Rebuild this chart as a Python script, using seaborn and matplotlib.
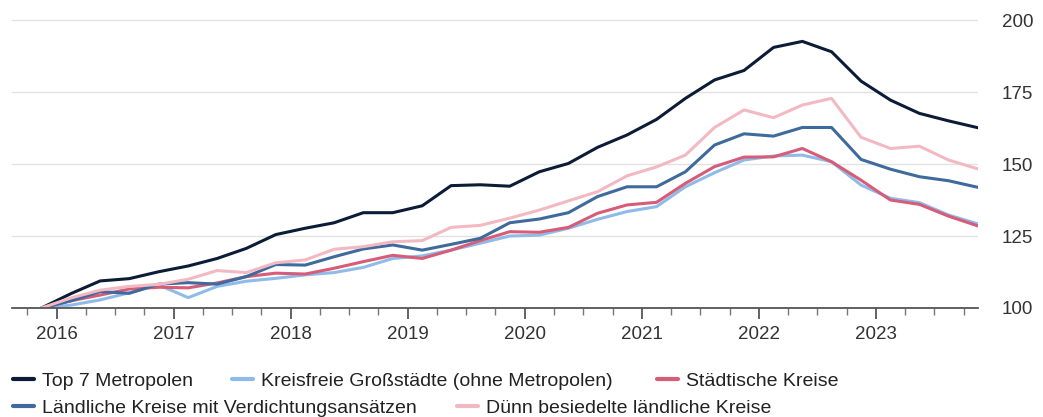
#!/usr/bin/env python3
"""
Preisindex nach Kreistyp (Quartale 2015 Q4 - 2023 Q4, 2015 Q4 = 100)
Output: out.png
"""

import pandas as pd
import matplotlib
matplotlib.use("Agg")
import matplotlib.pyplot as plt
import matplotlib.dates as mdates
import seaborn as sns

# Quartale
quarters = pd.period_range("2015Q4", "2023Q4", freq="Q")

# Indexwerte je Kreistyp
top7 = [100, 105, 109.4, 110.2, 112.6, 114.6, 117.2, 120.7, 125.5, 127.7, 129.6,
        133.1, 133.1, 135.5, 142.5, 142.8, 142.3, 147.3, 150.2, 155.8, 160.1,
        165.5, 172.8, 179.2, 182.5, 190.5, 192.6, 189.0, 178.8, 172.2, 167.6,
        165.0, 162.6]
kreisfreie = [100, 101, 102.8, 105.3, 108.0, 103.6, 107.5, 109.3, 110.3, 111.5,
              112.3, 114.1, 117.2, 118.1, 120.1, 122.5, 125.0, 125.3, 127.7,
              130.8, 133.5, 135.2, 142.1, 147.0, 151.4, 152.8, 153.1, 150.8,
              142.7, 138.1, 136.6, 132.3, 129.2]
staedtische = [100, 102.5, 104.5, 106.6, 107.2, 107.0, 108.7, 110.9, 112.1,
               111.8, 113.8, 116.1, 118.3, 117.2, 120.1, 123.4, 126.5, 126.3,
               128.0, 132.9, 135.8, 136.7, 143.3, 149.1, 152.4, 152.5, 155.4,
               150.8, 144.4, 137.5, 136.0, 131.9, 128.5]
laendlich_verd = [100, 102.5, 105.7, 105.1, 108.3, 108.8, 108.3, 110.9, 115.1,
                  114.9, 117.8, 120.5, 121.9, 120.1, 122.1, 124.2, 129.6, 130.9,
                  133.1, 138.7, 142.1, 142.1, 147.3, 156.6, 160.5, 159.7, 162.7,
                  162.7, 151.6, 148.2, 145.6, 144.2, 141.9]
duenn = [100, 103.5, 106.2, 107.5, 108.2, 110.0, 113.0, 112.3, 115.7, 116.7,
         120.4, 121.3, 123.0, 123.4, 128.0, 128.7, 131.2, 134.0, 137.2, 140.4,
         145.9, 149.0, 153.1, 162.7, 168.8, 166.1, 170.5, 172.8, 159.3, 155.4,
         156.2, 151.4, 148.3]

series_names = [
    "Top 7 Metropolen",
    "Kreisfreie Großstädte (ohne Metropolen)",
    "Städtische Kreise",
    "Ländliche Kreise mit Verdichtungsansätzen",
    "Dünn besiedelte ländliche Kreise",
]
series_values = [top7, kreisfreie, staedtische, laendlich_verd, duenn]
colors = ["#0c1c36", "#8fbbe9", "#d65c78", "#3e6a9c", "#f3b9c3"]

y_ticks = [100, 125, 150, 175, 200]

# Legenden-Anker (Pixel x, Pixel y) im Fließlayout wie im Original
legend_slots = [(13, 381), (232, 381), (657, 381), (13, 408), (457, 408)]


def build_frame():
    # Datum = Quartalsmitte
    dates = quarters.to_timestamp(how="start") + pd.Timedelta(days=45)
    frames = []
    for name, vals in zip(series_names, series_values):
        frames.append(pd.DataFrame({"datum": dates, "index": vals, "typ": name}))
    return pd.concat(frames, ignore_index=True)


def main():
    sns.set_style("white")
    plt.rcParams["font.family"] = ["Liberation Sans", "DejaVu Sans"]

    df = build_frame()

    W, H = 1043, 417
    fig = plt.figure(figsize=(W / 100, H / 100), dpi=100)
    ax = fig.add_axes([12 / W, 109 / H, 966 / W, 298 / H])

    sns.lineplot(data=df, x="datum", y="index", hue="typ",
                 hue_order=series_names, palette=dict(zip(series_names, colors)),
                 linewidth=2.2, ax=ax, legend=False)

    ax.set_ylim(100, 203.5)
    ax.set_xlim(pd.Timestamp("2015-08-15"), df["datum"].max())

    # Achsen
    for side in ["top", "left", "right"]:
        ax.spines[side].set_visible(False)
    ax.spines["bottom"].set_color("#555555")
    ax.spines["bottom"].set_linewidth(1.3)
    ax.set_yticks(y_ticks)
    ax.yaxis.tick_right()
    ax.tick_params(axis="y", length=0, pad=17, labelsize=13.5, labelcolor="#333333")
    ax.grid(axis="y", color="#e2e2e2", linewidth=1)
    ax.set_axisbelow(True)

    ax.xaxis.set_major_locator(mdates.YearLocator())
    ax.xaxis.set_major_formatter(mdates.DateFormatter("%Y"))
    ax.xaxis.set_minor_locator(mdates.MonthLocator(bymonth=[4, 7, 10]))
    ax.tick_params(axis="x", which="both", bottom=True, direction="out")
    ax.tick_params(axis="x", which="major", length=8, width=1.3, color="#555555",
                   pad=5, labelsize=13.5, labelcolor="#333333")
    ax.tick_params(axis="x", which="minor", length=5, width=1, color="#777777")
    ax.set_xlabel("")
    ax.set_ylabel("")

    # Legende: ein Eintrag je Slot (Fließlayout, zwei Zeilen)
    lines = ax.get_lines()[:len(series_names)]
    for line, name, (px, py) in zip(lines, series_names, legend_slots):
        leg = fig.legend([line], [name], frameon=False, fontsize=14,
                         handlelength=1.08, handletextpad=0.4, borderpad=0,
                         borderaxespad=0, loc="center left",
                         bbox_to_anchor=(px / W, 1 - py / H))
        for h in leg.get_lines():
            h.set_linewidth(3)
        for t in leg.get_texts():
            t.set_color("#222222")

    fig.savefig("out.png", dpi=100)
    plt.close(fig)


if __name__ == "__main__":
    main()
